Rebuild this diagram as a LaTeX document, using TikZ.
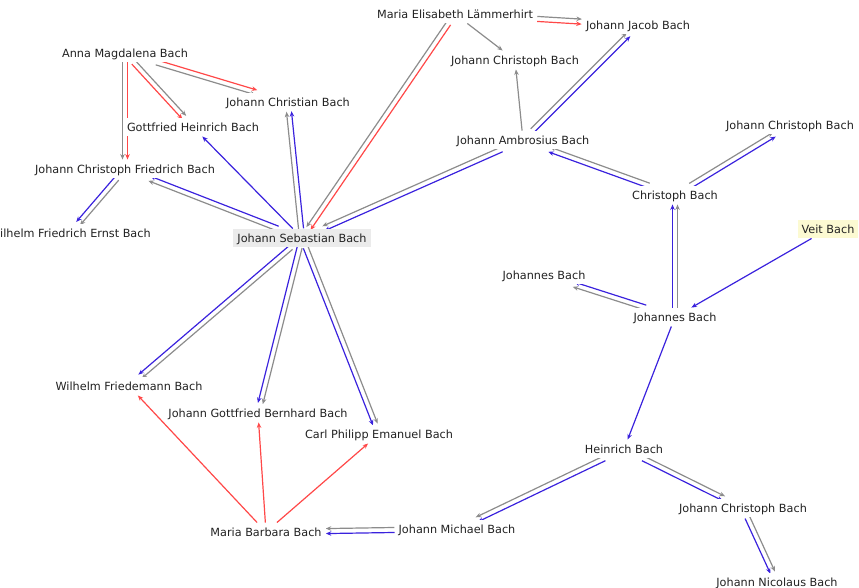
\documentclass[tikz,border=0pt]{standalone}
\usepackage{fontspec}
\newfontfamily\namefont{DejaVu Sans}
\usetikzlibrary{arrows.meta, calc, backgrounds}

\definecolor{linkgrey}{HTML}{8C8C8C}
\definecolor{linkred}{HTML}{FF4848}
\definecolor{linkblue}{HTML}{3A22DD}
\definecolor{nametext}{HTML}{222222}
\definecolor{rootfill}{HTML}{EBEBEB}
\definecolor{veitfill}{HTML}{FCFAD2}

% grey line and coloured line side by side, #4 = side of the grey one
\newcommand{\duo}[4]{%
  \path let \p1=($(#2)-(#1)$), \n1={atan2(\y1,\x1)+#4} in
    coordinate (g) at (\n1:2.5pt) coordinate (c) at ({\n1+180}:2.5pt);
  \draw[link, linkgrey, transform canvas={shift={(g)}}] (#1) -- (#2);
  \draw[link, #3, transform canvas={shift={(c)}}] (#1) -- (#2);
}

\begin{document}
\begin{tikzpicture}[
    x=1pt, y=-1pt,
    >={Stealth[length=5.5pt,width=4.5pt]},
    person/.style={fill=white, inner xsep=4pt, inner ysep=3.5pt,
      text height=10pt, text depth=1.5pt, text=nametext,
      font=\namefont\fontsize{11.25}{13}\selectfont},
    link/.style={->, line width=1.2pt}
  ]
\useasboundingbox (0,0) rectangle (859,587);

\node (anna) [person] at (125,53) {Anna Magdalena Bach};
\node (me)   [person] at (455,14) {Maria Elisabeth Lämmerhirt};
\node (jjb)  [person] at (638,25) {Johann Jacob Bach};
\node (jct)  [person] at (515,60) {Johann Christoph Bach};
\node (jcn)  [person] at (288,102) {Johann Christian Bach};
\node (ghb)  [person] at (193,127) {Gottfried Heinrich Bach};
\node (jcfb) [person] at (125,169) {Johann Christoph Friedrich Bach};
\node (wfeb) [person] at (70,233) {Wilhelm Friedrich Ernst Bach};
\node (jsb)  [person, fill=rootfill] at (302,238) {Johann Sebastian Bach};
\node (ja)   [person] at (523,140) {Johann Ambrosius Bach};
\node (jcr)  [person] at (790,125) {Johann Christoph Bach};
\node (cb)   [person] at (675,195) {Christoph Bach};
\node (veit) [person, fill=veitfill] at (828,229) {Veit Bach};
\node (johl) [person] at (544,275) {Johannes Bach};
\node (johc) [person] at (675,317) {Johannes Bach};
\node (hb)   [person] at (624,449) {Heinrich Bach};
\node (jcb)  [person] at (743,508) {Johann Christoph Bach};
\node (jnb)  [person] at (777,582) {Johann Nicolaus Bach};
\node (jm)   [person] at (457,529) {Johann Michael Bach};
\node (mb)   [person] at (266,532) {Maria Barbara Bach};
\node (wfb)  [person] at (129,386) {Wilhelm Friedemann Bach};
\node (jgbb) [person] at (258,413) {Johann Gottfried Bernhard Bach};
\node (cpeb) [person] at (379,434) {Carl Philipp Emanuel Bach};

\begin{pgfonlayer}{background}
\duo{anna}{jcfb}{linkred}{-90}
\duo{anna}{ghb}{linkred}{90}
\duo{anna}{jcn}{linkred}{-90}
\duo{me}{jjb}{linkred}{90}
\duo{me}{jsb}{linkred}{-90}
\duo{ja}{jjb}{linkblue}{90}
\duo{ja}{jsb}{linkblue}{-90}
\duo{cb}{ja}{linkblue}{-90}
\duo{cb}{jcr}{linkblue}{90}
\duo{johc}{cb}{linkblue}{-90}
\duo{johc}{johl}{linkblue}{90}
\duo{hb}{jm}{linkblue}{-90}
\duo{hb}{jcb}{linkblue}{90}
\duo{jcb}{jnb}{linkblue}{90}
\duo{jm}{mb}{linkblue}{-90}
\duo{jsb}{wfb}{linkblue}{90}
\duo{jsb}{jgbb}{linkblue}{90}
\duo{jsb}{cpeb}{linkblue}{90}
\duo{jsb}{jcfb}{linkblue}{90}
\duo{jsb}{jcn}{linkblue}{90}
\duo{jcfb}{wfeb}{linkblue}{90}

\path[link]
  (me)   edge [linkgrey] (jct)
  (ja)   edge [linkgrey] (jct)
  (veit) edge [linkblue] (johc)
  (johc) edge [linkblue] (hb)
  (jsb)  edge [linkblue] (ghb)
  (mb)   edge [linkred]  (wfb)
  (mb)   edge [linkred]  (jgbb)
  (mb)   edge [linkred]  (cpeb);
\end{pgfonlayer}
\end{tikzpicture}
\end{document}
